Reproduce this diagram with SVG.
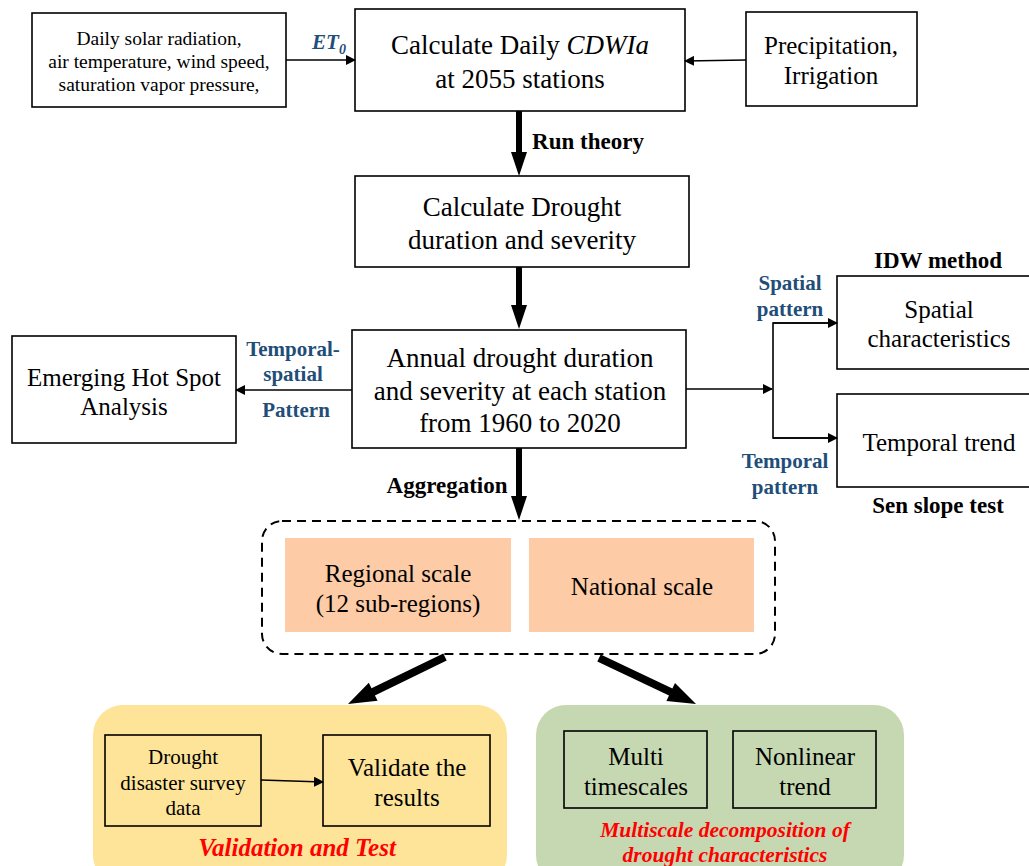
<svg xmlns="http://www.w3.org/2000/svg" width="1029" height="866" viewBox="0 0 1029 866">
<style>
.box{fill:#fff;stroke:#000;stroke-width:1.6}
.ibox{fill:none;stroke:#000;stroke-width:1.6}
.t{font-family:"Liberation Serif","Times New Roman",serif;fill:#000;text-anchor:middle}
.l{font-size:27px}
.s{font-size:19.5px}
.m{font-size:25px}
.b{font-family:"Liberation Serif","Times New Roman",serif;font-weight:bold;font-size:23px;text-anchor:middle}
.blue{fill:#1f4e79;font-size:21px}
.red{fill:#ff0000;font-style:italic;font-weight:bold;font-family:"Liberation Serif","Times New Roman",serif;text-anchor:middle}
.ln{stroke:#000;stroke-width:1.6;fill:none}
</style>
<defs>
<marker id="ah" markerWidth="10" markerHeight="10" refX="9" refY="5" orient="auto" markerUnits="userSpaceOnUse">
<path d="M0,0 L10,5 L0,10 z" fill="#000"/>
</marker>
</defs>

<g id="input">
<rect class="box" x="32" y="13" width="254" height="94"/>
<text class="t s" x="159" y="45">Daily solar radiation,</text>
<text class="t s" x="159" y="68">air temperature, wind speed,</text>
<text class="t s" x="159" y="91">saturation vapor pressure,</text>
</g>
<g id="cdwia">
<rect class="box" x="355" y="9" width="330" height="102"/>
<text class="t l" x="520" y="54">Calculate Daily <tspan font-style="italic">CDWIa</tspan></text>
<text class="t l" x="520" y="88">at 2055 stations</text>
</g>
<g id="precip">
<rect class="box" x="746" y="12" width="171" height="94"/>
<text class="t m" x="831" y="54">Precipitation,</text>
<text class="t m" x="831" y="84">Irrigation</text>
</g>
<g id="duration">
<rect class="box" x="355" y="176" width="334" height="91"/>
<text class="t l" x="522" y="216">Calculate Drought</text>
<text class="t l" x="522" y="249">duration and severity</text>
</g>
<g id="annual">
<rect class="box" x="352" y="330" width="334" height="118"/>
<text class="t l" x="520" y="367">Annual drought duration</text>
<text class="t l" x="520" y="400">and severity at each station</text>
<text class="t l" x="520" y="432">from 1960 to 2020</text>
</g>
<g id="hotspot">
<rect class="box" x="12" y="336" width="224" height="107"/>
<text class="t m" x="124" y="386">Emerging Hot Spot</text>
<text class="t m" x="124" y="415">Analysis</text>
</g>
<g id="spatial">
<rect class="box" x="837" y="276" width="200" height="93"/>
<text class="t m" x="939" y="318">Spatial</text>
<text class="t m" x="939" y="347">characteristics</text>
</g>
<g id="temporal">
<rect class="box" x="837" y="394" width="200" height="93"/>
<text class="t m" x="939" y="451">Temporal trend</text>
</g>
<g id="scales">
<rect x="262" y="521" width="513" height="133" rx="20" fill="none" stroke="#000" stroke-width="2" stroke-dasharray="9,6"/>
<rect x="285" y="538" width="226" height="94" fill="#fdcba6"/>
<rect x="529" y="538" width="225" height="94" fill="#fdcba6"/>
<text class="t m" x="398" y="582">Regional scale</text>
<text class="t m" x="398" y="612">(12 sub-regions)</text>
<text class="t m" x="642" y="595">National scale</text>
</g>
<g id="validation">
<rect x="93" y="705" width="414" height="180" rx="30" fill="#fee498"/>
<rect class="ibox" x="105" y="735" width="156" height="91"/>
<text class="t" font-size="21" x="183" y="764">Drought</text>
<text class="t" font-size="21" x="183" y="790">disaster survey</text>
<text class="t" font-size="21" x="183" y="815">data</text>
<rect class="ibox" x="323" y="735" width="167" height="91"/>
<text class="t m" x="407" y="776">Validate the</text>
<text class="t m" x="407" y="806">results</text>
<text class="red" font-size="25" x="297" y="856">Validation and Test</text>
</g>
<g id="multiscale">
<rect x="536" y="705" width="368" height="180" rx="30" fill="#c5d8b2"/>
<rect class="ibox" x="564" y="731" width="143" height="77"/>
<text class="t m" x="636" y="765">Multi</text>
<text class="t m" x="636" y="795">timescales</text>
<rect class="ibox" x="733" y="731" width="143" height="77"/>
<text class="t m" x="805" y="765">Nonlinear</text>
<text class="t m" x="805" y="795">trend</text>
<text class="red" font-size="21.5" x="725" y="837">Multiscale decomposition of</text>
<text class="red" font-size="21.5" x="725" y="862">drought characteristics</text>
</g>

<g id="connectors">
<line class="ln" x1="286" y1="60" x2="355" y2="60" marker-end="url(#ah)"/>
<line class="ln" x1="746" y1="60" x2="685" y2="61" marker-end="url(#ah)"/>
<polygon points="516,111 522,111 522,152 527,152 519,176 511,152 516,152" fill="#000"/>
<polygon points="516,267 522,267 522,305 527,305 519,329 511,305 516,305" fill="#000"/>
<polygon points="516,448 522,448 522,496 527,496 519,520 511,496 516,496" fill="#000"/>
<polygon points="443.3,653.4 446.7,660.6 374.9,695.4 377.6,700.8 348,704 368.8,682.8 371.5,688.2" fill="#000"/>
<polygon points="600.7,654.4 597.3,661.6 669.0,695.6 666.4,701.0 696,704 675.0,683.0 672.4,688.4" fill="#000"/>
<line class="ln" x1="352" y1="390" x2="236" y2="390" marker-end="url(#ah)"/>
<line class="ln" x1="686" y1="389" x2="772" y2="389" marker-end="url(#ah)"/>
<polyline class="ln" points="837,323 773,323 773,438 837,438"/>
<line class="ln" x1="773" y1="323" x2="837" y2="323" marker-end="url(#ah)"/>
<line class="ln" x1="773" y1="438" x2="837" y2="438" marker-end="url(#ah)"/>
<line class="ln" x1="261" y1="780" x2="323" y2="782" marker-end="url(#ah)"/>

<text class="b blue" x="329" y="49" font-style="italic">ET<tspan font-size="14" dy="5">0</tspan></text>
<text class="b" x="588" y="149">Run theory</text>
<text class="b blue" x="293" y="356">Temporal-</text>
<text class="b blue" x="293" y="381">spatial</text>
<text class="b blue" x="296" y="417">Pattern</text>
<text class="b blue" x="790" y="290">Spatial</text>
<text class="b blue" x="790" y="316">pattern</text>
<text class="b blue" x="785" y="468">Temporal</text>
<text class="b blue" x="785" y="494">pattern</text>
<text class="b" x="938" y="268">IDW method</text>
<text class="b" x="938" y="513">Sen slope test</text>
<text class="b" x="447" y="493">Aggregation</text>
</g>
</svg>
